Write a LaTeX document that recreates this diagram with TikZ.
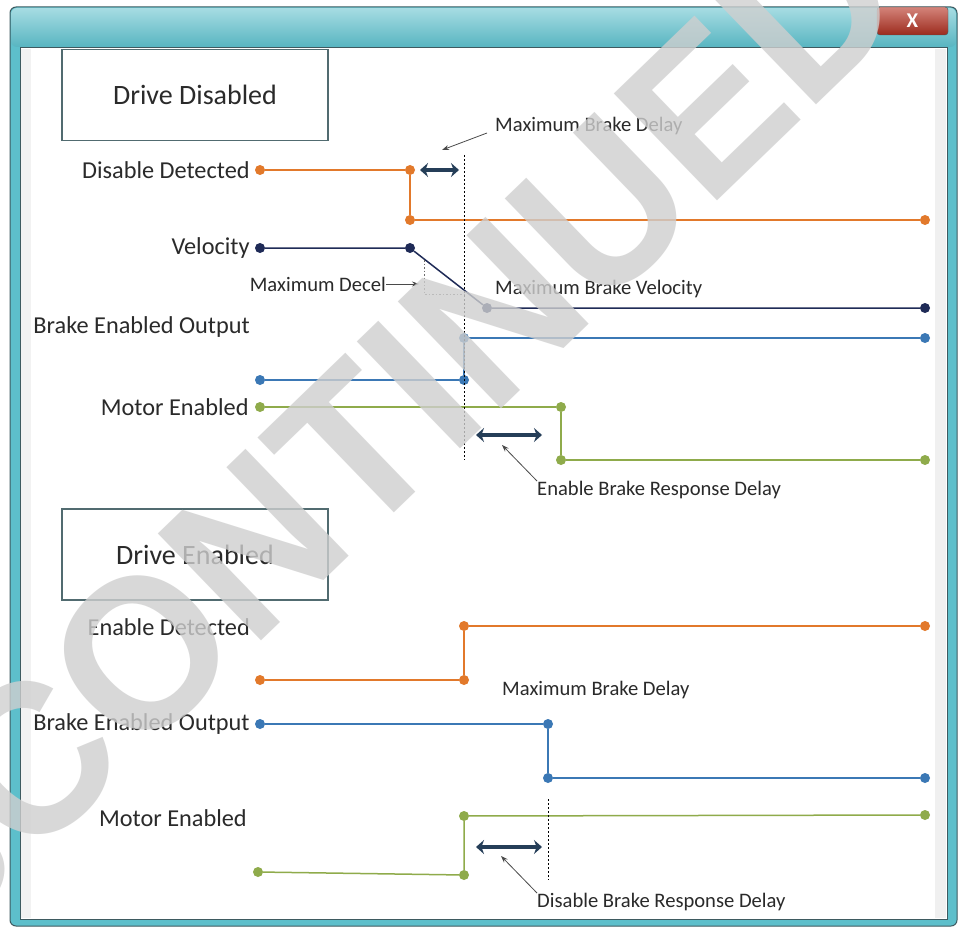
\documentclass[tikz,border=0pt]{standalone}
\usepackage{fontspec}
\setmainfont{Carlito}
\newfontfamily\wmfont{Liberation Sans}
\usetikzlibrary{arrows.meta, positioning, calc}
\definecolor{sigOrange}{HTML}{E2792B}
\definecolor{sigNavy}{HTML}{1F2B57}
\definecolor{sigBlue}{HTML}{3B78B5}
\definecolor{sigGreen}{HTML}{8FAB4B}
\definecolor{dlyNavy}{HTML}{253E58}
\definecolor{txtGrey}{HTML}{2A2A2A}
\definecolor{winTeal}{HTML}{5DBFCB}
\definecolor{winEdge}{HTML}{3E5A60}
\definecolor{wmGrey}{HTML}{CFCFCF}
\definecolor{closeRed}{HTML}{B83222}
\tikzset{
  dot/.style={circle, fill=#1, inner sep=0pt, minimum size=10pt},
  sig/.style={draw=#1, line width=1.5pt},
  siglabel/.style={anchor=east, inner sep=0pt, text=txtGrey, font=\fontsize{24.3}{28}\selectfont},
  note/.style={inner sep=0pt, text=txtGrey, font=\fontsize{20.6}{24}\selectfont},
  statebox/.style={draw=winEdge!90, line width=1.2pt, fill=white, minimum width=266pt,
                   minimum height=91pt, text=txtGrey, font=\fontsize{28}{32}\selectfont},
  dlyarrow/.style={dlyNavy, line width=4pt, {Stealth[length=8pt,width=14pt]}-{Stealth[length=8pt,width=14pt]}},
  pointer/.style={draw=txtGrey!85, line width=0.8pt, -{Stealth[length=7pt,width=5pt]}},
  cutline/.style={black, line width=0.9pt, dash pattern=on 2pt off 2pt},
  guide/.style={txtGrey!70, line width=0.9pt, dash pattern=on 1.5pt off 2pt},
}

\begin{document}
\begin{tikzpicture}[x=1pt, y=-1pt]
\useasboundingbox (0,0) rectangle (958,928);
% window frame
\fill[winTeal, draw=winEdge, line width=1pt, rounded corners=6pt] (10,7) rectangle (957,926);
\shade[top color=winTeal!55, bottom color=winTeal!95!black, rounded corners=6pt] (11,8) rectangle (956,47);
\fill[white, draw=winEdge, line width=1pt] (20,48) rectangle (947,919);
\fill[gray!10] (21,49) rectangle (31,918);
\fill[gray!12] (935,49) rectangle (946,918);
\node[draw=winEdge, rounded corners=3pt, top color=closeRed!60!white, bottom color=closeRed!85!black,
      minimum width=71pt, minimum height=28pt, inner sep=0pt, text=white,
      font=\fontsize{21}{21}\selectfont\bfseries] (closebtn) at (912.5,21) {X};

\begin{scope}
\clip (21,49) rectangle (946,918);
\node[statebox] (boxoff) at (195,95) {Drive Disabled};
\node[statebox] (boxon) at (195,554.5) {Drive Enabled};

%% drive disabled
\node[dot=sigOrange] (dis0) at (260,170) {};
\node[dot=sigOrange] (dis1) at (410,170) {};
\node[dot=sigOrange] (dis2) at (410,220) {};
\node[dot=sigOrange] (dis3) at (925,220) {};
\draw[sig=sigOrange] (dis0) -- (dis1) -- (dis2) -- (dis3);
\node[siglabel, left=5pt of dis0] {Disable Detected};

\node[dot=sigNavy] (vel0) at (260,248) {};
\node[dot=sigNavy] (vel1) at (410,248) {};
\node[dot=sigNavy] (vel2) at (487,308) {};
\node[dot=sigNavy] (vel3) at (925,308) {};
\draw[sig=sigNavy] (vel0) -- (vel1) -- (vel2) -- (vel3);
\node[siglabel, left=5pt of vel0] {Velocity};

\node[dot=sigBlue] (brk0) at (260,380) {};
\node[dot=sigBlue] (brk1) at (464,380) {};
\node[dot=sigBlue] (brk2) at (464,338) {};
\node[dot=sigBlue] (brk3) at (925,338) {};
\draw[sig=sigBlue] (brk0) -- (brk1) -- (brk2) -- (brk3);
\node[siglabel] at (250,327) {Brake Enabled Output};

\node[dot=sigGreen] (mot0) at (260,407) {};
\node[dot=sigGreen] (mot1) at (561,407) {};
\node[dot=sigGreen] (mot2) at (561,460) {};
\node[dot=sigGreen] (mot3) at (925,460) {};
\draw[sig=sigGreen] (mot0) -- (mot1) -- (mot2) -- (mot3);
\node[siglabel, left=6pt of mot0] {Motor Enabled};

% brake cut-in
\coordinate (cut0) at (464,155);
\coordinate (cut1) at (464,460);
\draw[cutline] (cut0) -- (cut1);
\coordinate (dly0) at (420,170);
\coordinate (dly1) at (459,170);
\draw[dlyarrow] (dly0) -- (dly1);
\node[note, anchor=west] (mbd) at (495,126) {Maximum Brake Delay};
\coordinate (mbdtip) at (442,150);
\draw[pointer] ($(mbd.west)+(-8,7)$) -- (mbdtip);

\node[note, anchor=east] (decel) at (386,284) {Maximum Decel};
\coordinate (deceltip) at (419,284);
\draw[pointer] (decel.east) -- (deceltip);
\draw[guide] (424,260) -- (424,294) -- (464,294);
\node[note, anchor=west] (mbv) at (495,289) {Maximum Brake Velocity};

\coordinate (erd0) at (476,435);
\coordinate (erd1) at (542,435);
\draw[dlyarrow] (erd0) -- (erd1);
\node[note, anchor=west] (ebr) at (537,490) {Enable Brake Response Delay};
\coordinate (ebrtip) at (502,445);
\draw[pointer] ($(ebr.west)+(0,-9)$) -- (ebrtip);

%% drive enabled
\node[dot=sigOrange] (ena0) at (260,680) {};
\node[dot=sigOrange] (ena1) at (464,680) {};
\node[dot=sigOrange] (ena2) at (464,626) {};
\node[dot=sigOrange] (ena3) at (925,626) {};
\draw[sig=sigOrange] (ena0) -- (ena1) -- (ena2) -- (ena3);
\node[siglabel] at (250,627) {Enable Detected};

\node[dot=sigBlue] (bre0) at (260,724) {};
\node[dot=sigBlue] (bre1) at (548,724) {};
\node[dot=sigBlue] (bre2) at (548,778) {};
\node[dot=sigBlue] (bre3) at (925,778) {};
\draw[sig=sigBlue] (bre0) -- (bre1) -- (bre2) -- (bre3);
\node[siglabel, left=5pt of bre0] {Brake Enabled Output};
\node[note, anchor=west] at (502,690) {Maximum Brake Delay};

\node[dot=sigGreen] (men0) at (258,872) {};
\node[dot=sigGreen] (men1) at (464,875) {};
\node[dot=sigGreen] (men2) at (464,816) {};
\node[dot=sigGreen] (men3) at (925,815) {};
\draw[sig=sigGreen] (men0) -- (men1) -- (men2) -- (men3);
\node[siglabel] at (247,818) {Motor Enabled};

% brake release
\coordinate (cut2) at (548,799);
\coordinate (cut3) at (548,880);
\draw[cutline] (cut2) -- (cut3);
\coordinate (drd0) at (476,847);
\coordinate (drd1) at (542,847);
\draw[dlyarrow] (drd0) -- (drd1);
\node[note, anchor=west] (dbr) at (537,902) {Disable Brake Response Delay};
\coordinate (dbrtip) at (501,856);
\draw[pointer] ($(dbr.west)+(0,-9)$) -- (dbrtip);
\end{scope}

% watermark
\node[rotate=44, xscale=0.96, text=wmGrey, opacity=0.8, inner sep=0pt,
      font=\wmfont\bfseries\fontsize{216}{216}\selectfont] (stamp) at (295,505) {DISCONTINUED};
\end{tikzpicture}
\end{document}
